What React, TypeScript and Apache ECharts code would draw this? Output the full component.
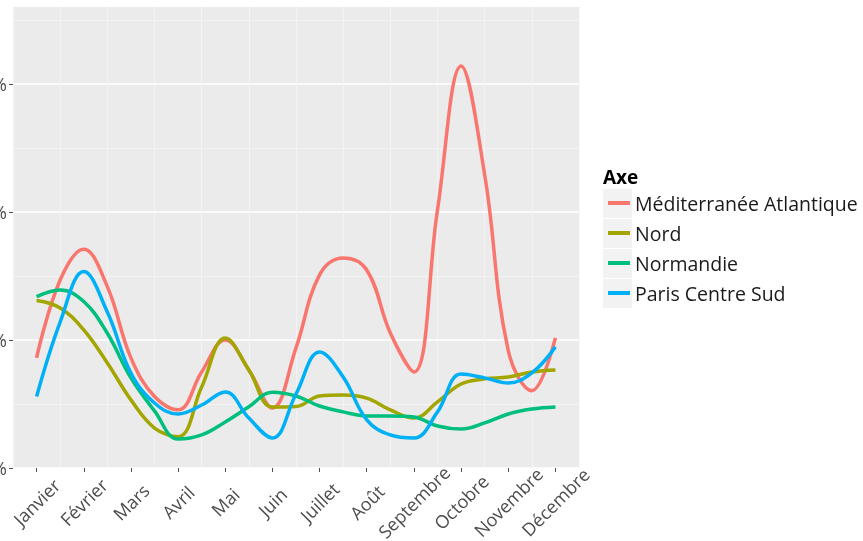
import React, { useEffect, useRef } from "react";
import * as echarts from "echarts";

const monthLabels = ["Janvier", "Février", "Mars", "Avril", "Mai", "Juin", "Juillet", "Août", "Septembre", "Octobre", "Novembre", "Décembre"];
// read positions: every half month (1 = Janvier ... 12 = Décembre)
const samplePositions = [1, 1.5, 2, 2.5, 3, 3.5, 4, 4.5, 5, 5.5, 6, 6.5, 7, 7.5, 8, 8.5, 9, 9.5, 10, 10.5, 11, 11.5, 12];
const seriesNames = ["Méditerranée Atlantique", "Nord", "Normandie", "Paris Centre Sud"];
const mediterraneeAtlantique = [4.30, 7.34, 8.54, 7.08, 4.30, 2.79, 2.27, 3.75, 5.00, 3.83, 2.34, 4.69, 7.54, 8.20, 7.73, 5.27, 3.75, 10.08, 15.70, 11.45, 4.58, 3.02, 5.08];
const nord = [6.54, 6.25, 5.39, 4.10, 2.66, 1.56, 1.22, 3.16, 5.08, 3.83, 2.38, 2.40, 2.81, 2.85, 2.73, 2.27, 1.95, 2.58, 3.28, 3.48, 3.55, 3.75, 3.83];
const normandie = [6.69, 6.95, 6.50, 5.26, 3.52, 2.23, 1.13, 1.29, 1.80, 2.39, 2.96, 2.81, 2.42, 2.19, 2.03, 2.03, 1.99, 1.64, 1.52, 1.76, 2.11, 2.30, 2.38];
const parisCentreSud = [2.79, 5.70, 7.67, 6.09, 3.71, 2.54, 2.11, 2.46, 2.97, 1.95, 1.17, 2.89, 4.53, 3.55, 1.88, 1.29, 1.17, 2.19, 3.67, 3.52, 3.32, 3.71, 4.73];
const yTickValues = [0, 5, 10, 15];
const colors = ["#F8766D", "#A3A500", "#00BF7D", "#00B0F6"];

const FONT = "'Open Sans', sans-serif";

export default function App() {
  const ref = useRef<HTMLDivElement>(null);
  useEffect(() => {
    if (!ref.current) return;
    const chart = echarts.init(ref.current, undefined, { renderer: "svg" });
    const allSeries = [mediterraneeAtlantique, nord, normandie, parisCentreSud];
    const option: any = {
      animation: false,
      textStyle: { fontFamily: FONT },
      grid: {
        left: 13, right: 284, top: 7, bottom: 73,
        outerBoundsMode: "none", containLabel: false,
        show: true, backgroundColor: "#EBEBEB", borderWidth: 0,
      },
      xAxis: [
        {
          type: "value", min: 0.5, max: 12.5, interval: 1, position: "top",
          axisLine: { show: false }, axisTick: { show: false }, axisLabel: { show: false },
          splitLine: { show: true, lineStyle: { color: "#F5F5F5", width: 0.8 } },
        },
        {
          type: "category", data: monthLabels, boundaryGap: true, position: "bottom",
          axisLine: { show: false },
          axisTick: { show: true, alignWithLabel: true, length: 4, lineStyle: { color: "#4D4D4D", width: 1 } },
          axisLabel: {
            rotate: 45, align: "center", verticalAlign: "middle", margin: 34,
            fontSize: 18, color: "#4D4D4D", fontFamily: FONT, interval: 0,
          },
          splitLine: { show: false },
        },
      ],
      yAxis: {
        type: "value", min: 0, max: 18, interval: 5,
        axisLine: { show: false },
        axisTick: { show: true, length: 4, customValues: yTickValues, lineStyle: { color: "#4D4D4D" } },
        axisLabel: {
          customValues: yTickValues, formatter: (v: number) => v + "%",
          margin: 6, fontSize: 18, color: "#4D4D4D", fontFamily: FONT,
        },
        splitLine: { show: true, lineStyle: { color: "#FFFFFF", width: 1.5 } },
        minorTick: { show: false, splitNumber: 2 },
        minorSplitLine: { show: true, lineStyle: { color: "#F5F5F5", width: 0.8 } },
      },
      legend: {
        orient: "vertical", left: 608, top: 188, padding: 0, itemGap: 0,
        icon: "rect", itemWidth: 22, itemHeight: 4,
        data: seriesNames,
        textStyle: { fontSize: 19.5, color: "#1A1A1A", lineHeight: 30, fontFamily: FONT },
      },
      graphic: [
        ...seriesNames.map((_, i) => ({
          type: "rect", z: 0,
          shape: { x: 603, y: 189 + 30 * i, width: 29, height: 29 },
          style: { fill: "#F2F2F2" },
        })),
        {
          type: "text", x: 603, y: 177,
          style: { text: "Axe", font: `bold 19px ${FONT}`, fill: "#000000", verticalAlign: "middle" },
        },
      ],
      series: seriesNames.map((name, i) => ({
        name, type: "line", xAxisIndex: 0, smooth: 0.4, symbol: "none",
        lineStyle: { width: 3.5, color: colors[i] }, itemStyle: { color: colors[i] },
        data: samplePositions.map((x, k) => [x, allSeries[i][k]]),
      })),
    };
    chart.setOption(option);
    return () => chart.dispose();
  }, []);
  return <div ref={ref} style={{ position: "fixed", left: 0, top: 0, width: 863, height: 541 }} />;
}
